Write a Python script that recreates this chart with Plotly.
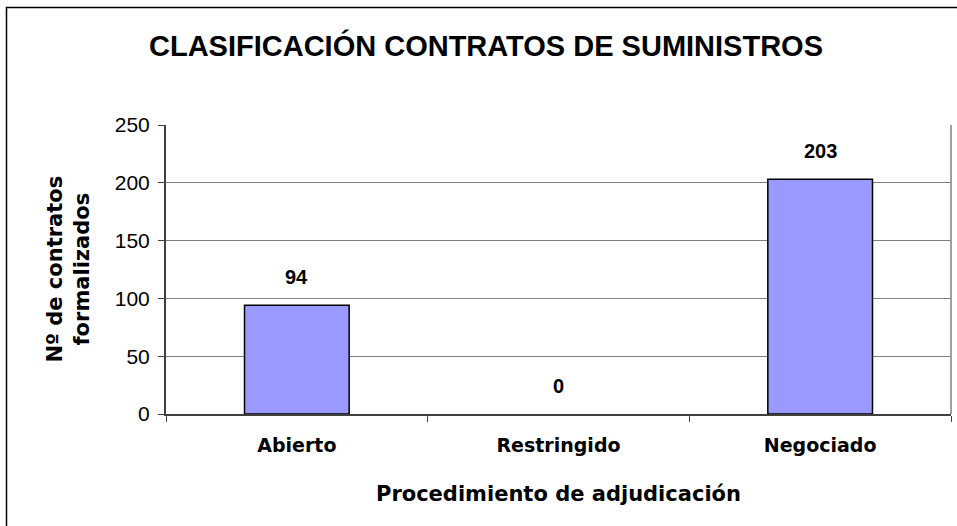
import plotly.graph_objects as go

categories = ["Abierto", "Restringido", "Negociado"]
values = [94, 0, 203]
y_ticks = [0, 50, 100, 150, 200, 250]

title_text = "CLASIFICACIÓN CONTRATOS DE SUMINISTROS"
x_title = "Procedimiento de adjudicación"
y_title = "Nº de contratos<br>formalizados"

W, H = 957, 526
ML, MR, MT, MB = 166, 6, 125, 112
PW = W - ML - MR
PH = H - MT - MB

fig = go.Figure()
fig.add_trace(go.Bar(
    x=categories, y=values,
    marker=dict(color="#9999FF",
                line=dict(color="#000000", width=[1.5 if v > 0 else 0 for v in values])),
    hoverinfo="skip",
))

# data labels
for c, v in zip(categories, values):
    fig.add_annotation(x=c, y=v, text=f"<b>{v}</b>", showarrow=False,
                       yshift=28, xanchor="center", yanchor="middle",
                       font=dict(family="Liberation Sans, Arial", size=20, color="#000"))

# axis titles as annotations
fig.add_annotation(xref="paper", yref="paper", x=0.5, y=0, yshift=-(494 - (H - MB)),
                   text=f"<b>{x_title}</b>", showarrow=False, xanchor="center", yanchor="middle",
                   font=dict(family="DejaVu Sans", size=21, color="#000"))
fig.add_annotation(xref="paper", yref="paper", x=0, y=0.5, xshift=68 - ML,
                   text=f"<b>{y_title}</b>", showarrow=False, textangle=-90,
                   xanchor="center", yanchor="middle",
                   font=dict(family="DejaVu Sans", size=21, color="#000"))


def px_to_paper_x(px):
    return (px - ML) / PW


def px_to_paper_y(py):
    return (H - MB - py) / PH


# outer chart border (right/bottom beyond the visible area)
fig.add_shape(type="rect", xref="paper", yref="paper",
              x0=px_to_paper_x(6.5), x1=px_to_paper_x(975),
              y0=px_to_paper_y(545), y1=px_to_paper_y(7.5),
              line=dict(color="#000000", width=1.5), fillcolor="rgba(0,0,0,0)", layer="below")
# right border of plot area
fig.add_shape(type="line", xref="paper", yref="paper", x0=1, x1=1, y0=0, y1=1,
              line=dict(color="#808080", width=1.5))

fig.update_layout(
    width=W, height=H,
    margin=dict(l=ML, r=MR, t=MT, b=MB, pad=0),
    paper_bgcolor="#ffffff", plot_bgcolor="#ffffff",
    showlegend=False,
    bargap=0.6,
    title=dict(text=f"<b>{title_text}</b>", x=486 / W, xanchor="center",
               y=1 - 46 / H, yanchor="middle", yref="container",
               font=dict(family="Liberation Sans, Arial", size=29, color="#000")),
    xaxis=dict(
        type="category", showgrid=False, zeroline=False,
        showline=True, linecolor="#404040", linewidth=2,
        ticks="outside", tickson="boundaries", ticklen=6, tickcolor="#404040", tickwidth=1,
        tickfont=dict(family="DejaVu Sans", size=19, color="#000"),
        ticklabelstandoff=13,
        tickvals=categories, ticktext=[f"<b>{c}</b>" for c in categories],
        range=[-0.5, 2.5],
    ),
    yaxis=dict(
        range=[0, 250], tickvals=y_ticks, ticktext=[str(t) for t in y_ticks],
        showgrid=True, gridcolor="#808080", gridwidth=1,
        zeroline=False, showline=True, linecolor="#404040", linewidth=2,
        ticks="outside", ticklen=6, tickcolor="#404040", tickwidth=1,
        tickfont=dict(family="Liberation Sans, Arial", size=21, color="#000"),
        ticklabelstandoff=4,
    ),
)

fig.write_html("out.html", config={"displayModeBar": False},
               post_script="document.body.style.margin='0';document.body.style.overflow='hidden';")
